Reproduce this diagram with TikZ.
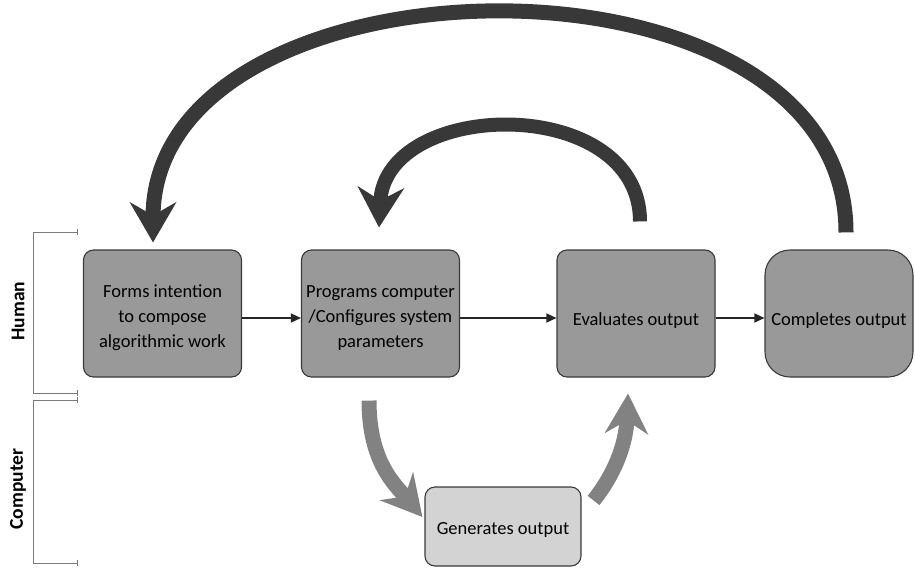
\documentclass[tikz,border=0pt]{standalone}
\usepackage{fontspec}
\setmainfont{Carlito}
\usetikzlibrary{arrows.meta}

\definecolor{boxgray}{HTML}{999999}
\definecolor{lightbox}{HTML}{D3D3D3}
\definecolor{edgegray}{HTML}{3A3A3A}
\definecolor{loopdark}{HTML}{383838}
\definecolor{flowgray}{HTML}{828282}
\definecolor{rulegray}{HTML}{7A7A7A}

\newcommand{\lift}[1]{\rule{0pt}{#1}}

\begin{document}
\begin{tikzpicture}[x=1pt, y=-1pt,
    stage/.style={draw=edgegray, line width=1.1pt, fill=boxgray, rounded corners=10pt,
        minimum width=158pt, minimum height=127pt, inner sep=0pt, align=center,
        font=\fontsize{18.5}{25}\selectfont},
    oneline/.style={execute at begin node={\lift{27pt}}},
    machine/.style={stage, fill=lightbox, minimum width=156pt, minimum height=79pt,
        execute at begin node={\lift{19pt}}},
    flow/.style={draw=black!85, line width=1.5pt, -{Triangle[length=10pt, width=9pt]}},
    loopback/.style={draw=loopdark, -{Stealth[length=40pt, width=46pt, inset=13pt]}},
    computes/.style={draw=flowgray, line width=15pt, -{Stealth[length=40pt, width=43pt, inset=13pt]}},
    lane/.style={draw=rulegray, line width=1pt, {Bar[width=6pt]}-{Bar[width=6pt]}},
    lanelabel/.style={rotate=90, font=\fontsize{19.5}{22}\bfseries\selectfont}]
    \useasboundingbox (0,0) rectangle (915,568);
    % Lanes
    \draw[lane] (78,232) -- (33,232) -- (33,393) -- (78,393);
    \draw[lane] (78,400) -- (33,400) -- (33,563) -- (78,563);
    \node[lanelabel] (human) at (18,311) {Human};
    \node[lanelabel] (computer) at (18,489) {Computer};
    % Stages
    \node[stage] (form) at (162.5,313.5) {\lift{21pt}Forms intention\\to compose\\algorithmic work};
    \node[stage] (prog) at (380.5,313.5) {\lift{21pt}Programs computer\\/Configures system\\parameters};
    \node[stage, oneline] (eval) at (636,313.5) {Evaluates output};
    \node[stage, oneline, rounded corners=25pt, minimum width=148pt] (done) at (839,313.5) {Completes output};
    \node[machine] (gen) at (503,526.5) {Generates output};
    % Forward steps
    \draw[flow] ([yshift=-4.5pt]form.east) -- ([yshift=-4.5pt]prog.west);
    \draw[flow] ([yshift=-4.5pt]prog.east) -- ([yshift=-4.5pt]eval.west);
    \draw[flow] ([yshift=-4.5pt]eval.east) -- ([yshift=-4.5pt]done.west);
    % Computer loop
    \draw[computes] ([xshift=-11.5pt, yshift=-23pt]prog.south)
        .. controls +(0,62) and +(-27,-32) .. ([xshift=-2pt, yshift=9.5pt]gen.west);
    \draw[computes] ([xshift=12pt, yshift=-14pt]gen.north east)
        .. controls +(20,-25) and +(-2,52) .. ([xshift=-8pt, yshift=-16pt]eval.south);
    % Feedback loops
    \draw[loopback, line width=14pt] ([xshift=4pt, yshift=28pt]eval.north)
        .. controls +(0,-128) and +(6,-130) .. ([xshift=-1.5pt, yshift=22pt]prog.north);
    \draw[loopback, line width=15pt] ([xshift=7pt, yshift=17pt]done.north)
        .. controls +(0,-300) and +(0,-296) .. ([xshift=-9.5pt, yshift=7pt]form.north);
\end{tikzpicture}
\end{document}
